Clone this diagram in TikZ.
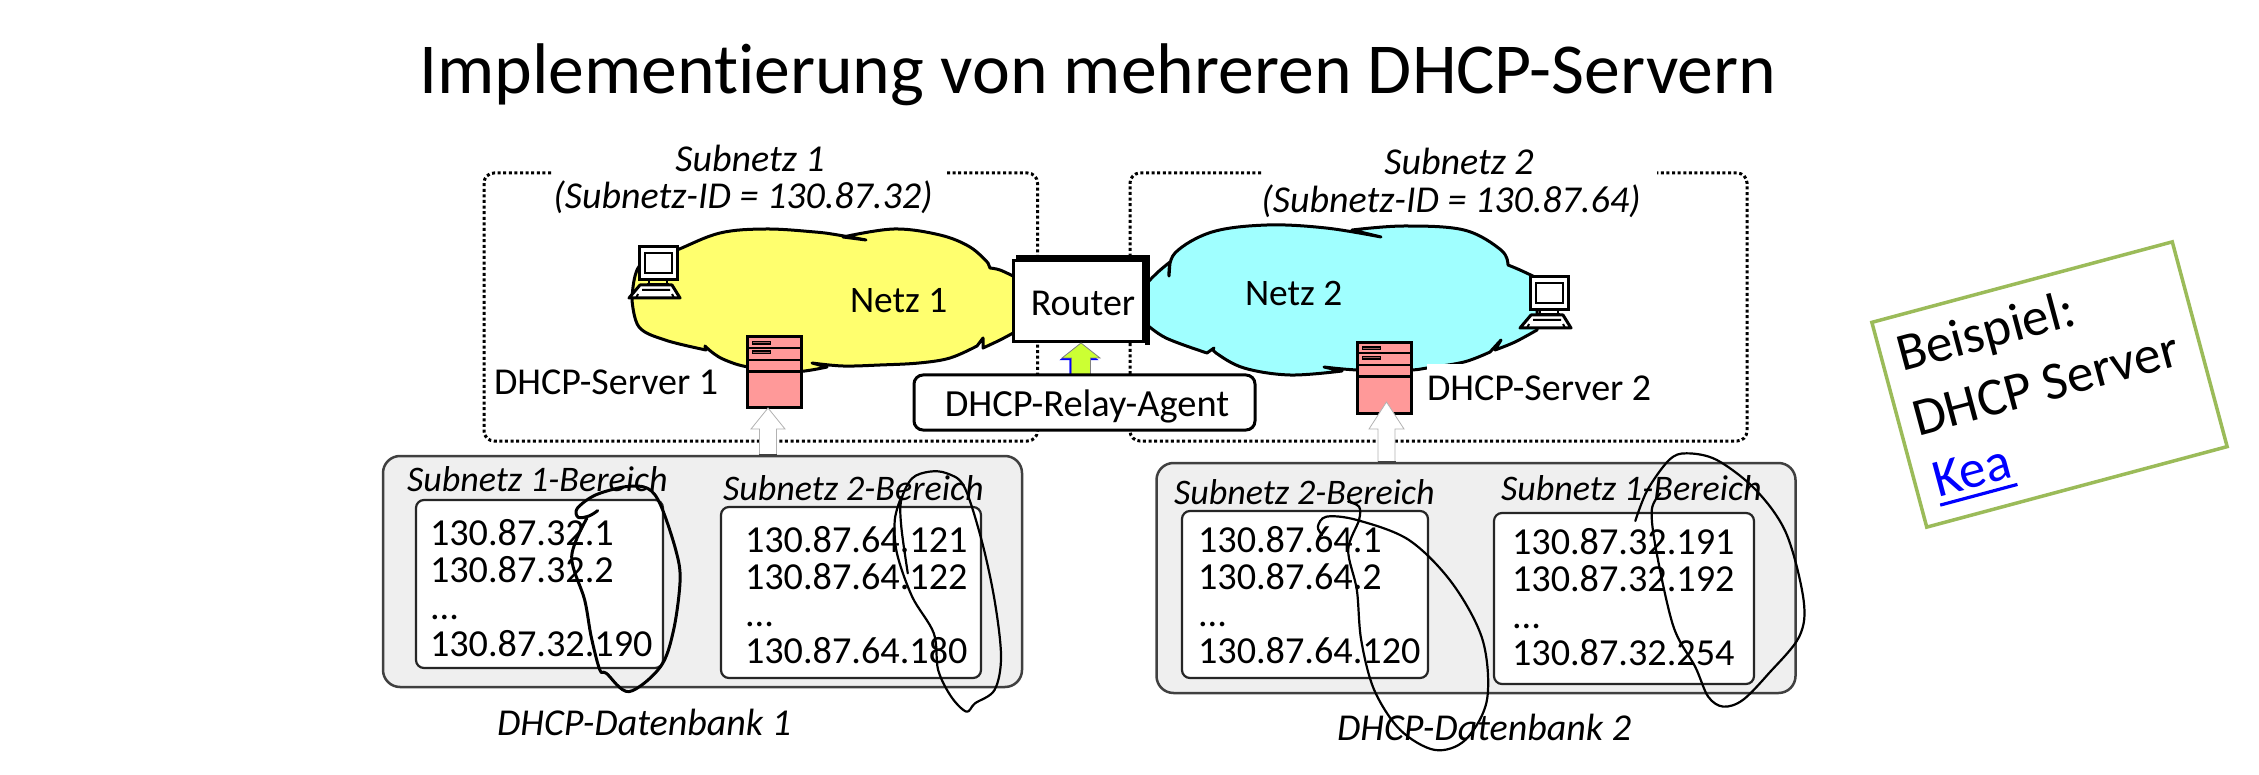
\documentclass[tikz,border=0pt]{standalone}
\usepackage{fontspec}
\setmainfont[Ligatures=CommonOff]{Carlito}
\usetikzlibrary{calc}
\definecolor{cloudyellow}{HTML}{FFFF6E}
\definecolor{cloudcyan}{HTML}{A0FFFF}
\definecolor{srvred}{HTML}{FF9999}
\definecolor{dbgray}{HTML}{EFEFEF}
\definecolor{notegreen}{HTML}{9BBB59}
\definecolor{arrowgreen}{HTML}{CCFF33}
\tikzset{
  lab/.style={inner sep=0pt,outer sep=0pt,anchor=base west,font=\fontsize{38}{38}\selectfont},
  netlab/.style={lab,font=\fontsize{37.4}{38}\selectfont},
  ilab/.style={lab,font=\fontsize{38}{38}\selectfont\itshape},
  blab/.style={lab,font=\fontsize{36}{38}\selectfont\itshape},
  cenlab/.style={ilab,anchor=base},
  nums/.style={inner sep=0pt,outer sep=0pt,anchor=base west,align=left,font=\fontsize{38.2}{36.7}\selectfont},
  dotbox/.style={line width=3pt,dash pattern=on 3pt off 2.6pt,rounded corners=10pt},
  cloudline/.style={line width=3pt,line join=round},
  dbbox/.style={draw=black!75,line width=2.5pt,fill=dbgray,rounded corners=17pt},
  rangebox/.style={draw=black!85,line width=2.2pt,fill=white,rounded corners=8pt},
  scribble/.style={line width=2.2pt,line cap=round,line join=round},
  whitearrow/.style={draw=black!30,line width=.8pt,fill=white},
  notetext/.style={inner sep=0pt,outer sep=0pt,anchor=base west,rotate=15,font=\fontsize{53.5}{53.5}\selectfont},
}
\newcommand{\blockarrow}[6]{% style, tip, base, shaft half, head half, head length
  \draw[#1] (#2) -- ([shift={(#5,#6)}]#2) -- ([shift={(#4,#6)}]#2) -- (#3 -| {$(#2)+(#4,0)$}) -- (#3 -| {$(#2)+(-#4,0)$}) -- ([shift={(-#4,#6)}]#2) -- ([shift={(-#5,#6)}]#2) -- cycle;}
\newcommand{\serverglyph}[2]{% top-left corner
  \begin{scope}[shift={(#1,#2)}]
    \draw[line width=3pt,fill=srvred] (0,0) rectangle (54,70.5);
    \draw[line width=2pt] (0,11) -- (54,11) (0,23) -- (54,23);
    \draw[line width=3pt] (0,34.5) -- (54,34.5);
    \draw[line width=1.2pt,fill=srvred!60!black] (5,4.5) rectangle (23,7);
    \draw[line width=1.2pt,fill=srvred!60!black] (5,14) rectangle (23,16.5);
  \end{scope}}
\newcommand{\pcglyph}[2]{% monitor top-left corner
  \begin{scope}[shift={(#1,#2)}]
    \draw[line width=3pt,fill=white] (0,0) rectangle (38,33);
    \draw[line width=2.4pt,fill=white] (6,6) rectangle (33,26);
    \draw[line width=2.4pt] (10,33) -- (10,37) (28,33) -- (28,37) (8,37) -- (30,37);
    \draw[line width=3pt,fill=white,line join=round] (1,38) -- (33,38) -- (41,51) -- (-10,51) -- cycle;
    \draw[line width=2pt] (3,43) -- (31,43) (-1,47) -- (-3,51) (33,47) -- (35,51);
  \end{scope}}
\begin{document}
\begin{tikzpicture}[x=1pt,y=-1pt]
\useasboundingbox (0,0) rectangle (2259,775);

\node[lab,font=\fontsize{71.7}{72}\selectfont] (title) at (419,94) {Implementierung von mehreren DHCP-Servern};

% subnet frames
\draw[dotbox] (551,173) -- (484,173) -- (484,441) -- (1037.5,441) -- (1037.5,173) -- (945,173);
\draw[dotbox] (1261,173) -- (1130,173) -- (1130,441) -- (1747,441) -- (1747,173) -- (1657,173);

% cloud 1
\draw[cloudline,fill=cloudyellow]
  plot[smooth,tension=.6] coordinates {(632,300) (640,265) (677,250) (720,233) (766,229) (815,232) (838,235) (866,240)}
  -- (843,237)
  -- plot[smooth,tension=.6] coordinates {(843,237) (894,229) (940,235) (970,247) (988,263)}
  -- (990,268)
  -- plot[smooth,tension=.6] coordinates {(990,268) (1000,270) (1015,277)}
  -- (1015,332)
  -- plot[smooth,tension=.6] coordinates {(1015,332) (1000,340) (983,348)}
  -- (983,338) -- (977,346)
  -- plot[smooth,tension=.6] coordinates {(977,346) (950,358) (919,363) (880,365) (843,366) (812,363)}
  -- (827,367)
  -- plot[smooth,tension=.6] coordinates {(827,367) (792,372) (748,367) (725,360) (713,353) (705,346)}
  -- (706,350)
  -- plot[smooth,tension=.6] coordinates {(706,350) (665,340) (639,327) (632,300)}
  -- cycle;

% cloud 2
\draw[cloudline,fill=cloudcyan]
  plot[smooth,tension=.6] coordinates {(1145,285) (1158,272) (1170,262)}
  -- (1169,276)
  -- plot[smooth,tension=.6] coordinates {(1169,276) (1175,253) (1212,232) (1267,225) (1326,228) (1381,237)}
  -- (1352,230)
  -- plot[smooth,tension=.6] coordinates {(1352,230) (1404,226) (1464,230) (1501,250) (1508,265)}
  -- plot[smooth,tension=.6] coordinates {(1508,265) (1520,270) (1537,278)}
  -- (1537,330)
  -- plot[smooth,tension=.6] coordinates {(1537,330) (1515,342) (1495,350)}
  -- (1501,340) -- (1490,352)
  -- plot[smooth,tension=.6] coordinates {(1490,352) (1464,362) (1427,368) (1409,370) (1358,370) (1324,367)}
  -- (1342,371)
  -- plot[smooth,tension=.6] coordinates {(1342,371) (1290,375) (1244,368) (1216,353) (1214,348)}
  -- (1207,353)
  -- plot[smooth,tension=.6] coordinates {(1207,353) (1166,338) (1145,323)}
  -- cycle;

\pcglyph{639}{247}
\pcglyph{1530}{277}
\serverglyph{747.5}{337}
\serverglyph{1357.5}{342.5}

% router and relay
\node[draw,line width=3pt,fill=white,minimum width=130pt,minimum height=81pt,inner sep=0pt] (router) at (1078.5,301.5) {};
\draw[line width=5pt] ([xshift=4pt,yshift=2pt]router.north west) -- ([yshift=2pt,xshift=2pt]router.north east) -- ([xshift=2pt,yshift=-2pt]router.south east);
\node[lab,anchor=base] (routerlabel) at (1083,316) {Router};

\coordinate (gtip) at (1081,343);
\coordinate (gbase) at (1081,376);
\blockarrow{draw=blue,fill=blue}{$(gtip)+(-2,2)$}{gbase}{9.5}{19}{15}
\blockarrow{draw=black!50,line width=.8pt,fill=arrowgreen}{gtip}{gbase}{9.5}{19}{15}
\node[draw,line width=3pt,fill=white,rounded corners=9pt,minimum width=341pt,minimum height=55pt,inner sep=0pt] (relay) at (1084.5,402.5) {};
\node[lab,anchor=base,font=\fontsize{38.4}{38}\selectfont] (relaylabel) at (1087,416) {DHCP-Relay-Agent};

% databases
\node[dbbox,minimum width=639pt,minimum height=231pt,inner sep=0pt] (db1) at (702.5,571.5) {};
\node[dbbox,minimum width=639pt,minimum height=230pt,inner sep=0pt] (db2) at (1476,578) {};
\node[rangebox,minimum width=247pt,minimum height=168pt,inner sep=0pt] (r11) at (539.5,584) {};
\node[rangebox,minimum width=260pt,minimum height=171pt,inner sep=0pt] (r12) at (851,592.5) {};
\node[rangebox,minimum width=246pt,minimum height=167pt,inner sep=0pt] (r21) at (1305,594.5) {};
\node[rangebox,minimum width=260pt,minimum height=171pt,inner sep=0pt] (r22) at (1624,598.5) {};

\coordinate (w1tip) at (768,408);
\coordinate (w2tip) at (1386.5,402);
\blockarrow{whitearrow}{w1tip}{db1.north}{8.5}{17}{21}
\blockarrow{whitearrow}{w2tip}{db2.north}{8.5}{17.5}{27}
\draw[line width=2.5pt,black!75] ([xshift=-9pt]db1.north -| w1tip) -- ([xshift=9pt]db1.north -| w1tip);
\draw[line width=2.5pt,black!75] ([xshift=-9pt]db2.north -| w2tip) -- ([xshift=9pt]db2.north -| w2tip);

% labels
\node[cenlab] (s1a) at (750,172) {Subnetz 1};
\node[cenlab] (s1b) at (743,209) {(Subnetz-ID = 130.87.32)};
\node[cenlab] (s2a) at (1459,175) {Subnetz 2};
\node[cenlab] (s2b) at (1451,213) {(Subnetz-ID = 130.87.64)};
\node[netlab] (n1) at (850,313) {Netz 1};
\node[netlab] (n2) at (1245,306) {Netz 2};
\node[lab] (srv1lab) at (494,394) {DHCP-Server 1};
\node[lab,fill=white,text height=36pt,text depth=5pt] (srv2lab) at (1427,400) {DHCP-Server 2};

\node[blab] (b11) at (407,491) {Subnetz 1-Bereich};
\node[blab] (b12) at (723,500) {Subnetz 2-Bereich};
\node[blab] (b21) at (1174,504) {Subnetz 2-Bereich};
\node[blab] (b22) at (1501,500) {Subnetz 1-Bereich};

\node[nums] (l11) at (430,656) {130.87.32.1\\130.87.32.2\\...\\130.87.32.190};
\node[nums] (l12) at (745,663) {130.87.64.121\\130.87.64.122\\...\\130.87.64.180};
\node[nums] (l21) at (1198,663) {130.87.64.1\\130.87.64.2\\...\\130.87.64.120};
\node[nums] (l22) at (1512,665) {130.87.32.191\\130.87.32.192\\...\\130.87.32.254};

\node[ilab] (dbl1) at (497,735) {DHCP-Datenbank 1};
\node[ilab] (dbl2) at (1337,740) {DHCP-Datenbank 2};

% hand-drawn circles
\begin{scope}[shift={(370,440)},x=.4337pt,y=-.3333pt]
  \draw[scribble,line width=3pt] plot[smooth,tension=.55] coordinates {(525,212) (505,228) (480,232) (478,205) (520,165) (590,140) (640,145) (670,195) (705,330) (715,420) (700,570) (670,680) (597,755) (545,700) (530,690) (510,590) (495,480) (465,350) (500,235)};
  \draw[scribble] plot[smooth,tension=.55] coordinates {(1225,170) (1210,240) (1215,340) (1250,470) (1300,580) (1310,690) (1340,770) (1375,815) (1395,790) (1440,750) (1455,650) (1440,480) (1410,300) (1370,140) (1330,100) (1290,95) (1250,115) (1225,180) (1225,260) (1240,400)};
\end{scope}
\begin{scope}[shift={(1140,440)},x=.4337pt,y=-.3333pt]
  \draw[scribble] plot[smooth,tension=.55] coordinates {(480,185) (505,200) (505,240) (480,330) (500,450) (510,600) (540,750) (600,870) (680,930) (750,900) (800,780) (790,600) (720,430) (620,300) (500,240) (430,230) (410,260) (420,285)};
  \draw[scribble] plot[smooth,tension=.55] coordinates {(1142,243) (1170,150) (1220,60) (1260,40) (1330,60) (1420,150) (1490,280) (1530,480) (1520,590) (1450,700) (1390,780) (1345,800) (1310,770) (1280,680) (1230,560) (1190,330) (1180,210) (1200,160)};
\end{scope}

% note
\node[draw=notegreen,line width=3.5pt,rotate=15,minimum width=311pt,minimum height=212pt,inner sep=0pt] (note) at (2049.5,384.5) {};
\node[notetext] (n-a) at (1902,372) {Beispiel:};
\node[notetext] (n-b) at (1918,436) {DHCP Server};
\node[notetext,text=blue] (n-c) at (1938,497) {\rlap{\rule[-10pt]{80pt}{3.2pt}}Kea};
\end{tikzpicture}
\end{document}
